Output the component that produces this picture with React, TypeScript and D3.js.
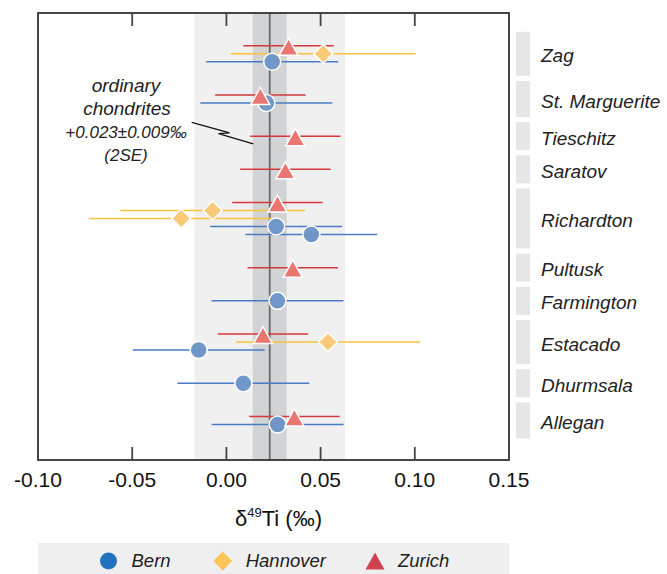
import React from 'react';
import * as d3 from 'd3';

// meteorite groups, top to bottom
const meteorites = ['Zag', 'St. Marguerite', 'Tieschitz', 'Saratov', 'Richardton', 'Pultusk', 'Farmington', 'Estacado', 'Dhurmsala', 'Allegan'];

// one entry per measurement
const rowMeteorite = ['Zag', 'Zag', 'Zag', 'St. Marguerite', 'St. Marguerite', 'Tieschitz', 'Saratov',
  'Richardton', 'Richardton', 'Richardton', 'Richardton', 'Richardton', 'Pultusk', 'Farmington',
  'Estacado', 'Estacado', 'Estacado', 'Dhurmsala', 'Allegan', 'Allegan'];
const rowLab = ['Zurich', 'Hannover', 'Bern', 'Zurich', 'Bern', 'Zurich', 'Zurich',
  'Zurich', 'Hannover', 'Hannover', 'Bern', 'Bern', 'Zurich', 'Bern',
  'Zurich', 'Hannover', 'Bern', 'Bern', 'Zurich', 'Bern'];
const delta49Ti = [0.033, 0.0514, 0.0243, 0.018, 0.0212, 0.0366, 0.0313,
  0.0271, -0.0073, -0.024, 0.0264, 0.0451, 0.0352, 0.0271,
  0.0194, 0.0539, -0.0147, 0.009, 0.0361, 0.0272];
const err2sd = [0.024, 0.049, 0.035, 0.024, 0.035, 0.024, 0.024,
  0.024, 0.049, 0.049, 0.035, 0.035, 0.024, 0.035,
  0.024, 0.049, 0.035, 0.035, 0.024, 0.035];

const labs = ['Bern', 'Hannover', 'Zurich'];
const xTicks = [-0.1, -0.05, 0, 0.05, 0.1, 0.15];

// ordinary chondrite average
const ocMean = 0.023;
const oc2se = 0.009;
const ocSpread = 0.04;

const W = 667;
const H = 574;
const left = 38, right = 509, top = 13, bottom = 460;
const font = '"Liberation Sans", Arial, Helvetica, sans-serif';
const GAP = 3.15; // extra slots between meteorite groups

const lineColor: Record<string, string> = { Bern: '#4a7bc4', Hannover: '#f7c33c', Zurich: '#d4393e' };
const markColor: Record<string, string> = { Bern: '#7097c8', Hannover: '#f8ca78', Zurich: '#e97670' };
const legendColor: Record<string, string> = { Bern: '#2173c2', Hannover: '#fcc55a', Zurich: '#cf4250' };

function Marker({ lab, cx, cy, fill, stroke }: { lab: string; cx: number; cy: number; fill: string; stroke?: string }) {
  const sw = stroke ? 1.5 : 0;
  if (lab === 'Bern') return <circle cx={cx} cy={cy} r={8.5} fill={fill} stroke={stroke} strokeWidth={sw} />;
  if (lab === 'Hannover') {
    const s = 9.5;
    return <path d={`M${cx},${cy - s}L${cx + s},${cy}L${cx},${cy + s}L${cx - s},${cy}Z`} fill={fill} stroke={stroke} strokeWidth={sw} />;
  }
  const w = 9.5, h = 8.5;
  return <path d={`M${cx},${cy - h}L${cx + w},${cy + h}L${cx - w},${cy + h}Z`} fill={fill} stroke={stroke} strokeWidth={sw} />;
}

export default function App() {
  const x = d3.scaleLinear().domain([-0.1, 0.15]).range([left, right]);

  const rows = rowMeteorite.map((m, i) => {
    const gi = meteorites.indexOf(m);
    return { m, gi, lab: rowLab[i], v: delta49Ti[i], e: err2sd[i], slot: i + gi * GAP };
  });
  const y = d3.scaleLinear().domain([-4.1, 51.8]).range([top, bottom]);

  const groups = meteorites.map((m) => {
    const slots = rows.filter((r) => r.m === m).map((r) => r.slot);
    return { m, y0: y(d3.min(slots)!) - 14, y1: y(d3.max(slots)!) + 14 };
  });

  const drawOrder = ['Bern', 'Hannover', 'Zurich'];
  const fmt = (t: number) => d3.format('.2f')(t).replace('\u2212', '-');

  return (
    <svg width={W} height={H} style={{ position: 'absolute', left: 0, top: 0 }} fontFamily={font}>
      {/* chondrite bands */}
      <rect x={x(ocMean - ocSpread)} y={top} width={x(ocMean + ocSpread) - x(ocMean - ocSpread)} height={bottom - top} fill="#f0f0f0" />
      <rect x={x(ocMean - oc2se)} y={top} width={x(ocMean + oc2se) - x(ocMean - oc2se)} height={bottom - top} fill="#d2d3d5" />
      <line x1={x(ocMean)} x2={x(ocMean)} y1={top} y2={bottom} stroke="#6a6a6a" strokeWidth={1.8} />

      {/* error bars */}
      {rows.map((r, i) => (
        <line key={'e' + i} x1={x(r.v - r.e)} x2={x(r.v + r.e)} y1={y(r.slot)} y2={y(r.slot)}
          stroke={lineColor[r.lab]} strokeWidth={1.5} />
      ))}
      {/* markers */}
      {drawOrder.map((lab) =>
        rows.filter((r) => r.lab === lab).map((r, i) => (
          <Marker key={lab + i} lab={lab} cx={x(r.v)} cy={y(r.slot) + (lab === 'Zurich' ? 1 : 0)} fill={markColor[lab]} stroke="#ffffff" />
        ))
      )}

      {/* annotation */}
      <g fontStyle="italic" fill="#222" textAnchor="middle">
        <text x={126} y={92} fontSize={19}>ordinary</text>
        <text x={127} y={115} fontSize={19}>chondrites</text>
        <text x={126} y={138} fontSize={17}>+0.023±0.009‰</text>
        <text x={126} y={161} fontSize={17}>(2SE)</text>
      </g>
      <polyline points="191.7,122.3 229.5,132.8 218.5,133.6 253.3,143.8" fill="none" stroke="#111" strokeWidth={1.2} />

      {/* frame and ticks */}
      <rect x={left} y={top} width={right - left} height={bottom - top} fill="none" stroke="#333" strokeWidth={1.8} />
      {xTicks.map((t) => (
        <g key={t}>
          <line x1={x(t)} x2={x(t)} y1={top} y2={top + 13} stroke="#444" strokeWidth={1.8} />
          <line x1={x(t)} x2={x(t)} y1={bottom} y2={bottom - 13} stroke="#444" strokeWidth={1.8} />
          <text x={x(t)} y={487} fontSize={21} textAnchor="middle" fill="#111">{fmt(t)}</text>
        </g>
      ))}
      <text x={235} y={526} fontSize={22} fill="#111">
        δ<tspan fontSize={13} dy={-9}>49</tspan><tspan dy={9}>Ti (‰)</tspan>
      </text>

      {/* meteorite labels */}
      {groups.map((g) => (
        <g key={g.m}>
          <rect x={516} y={g.y0} width={14} height={g.y1 - g.y0} fill="#e6e6e6" />
          <text x={541} y={(g.y0 + g.y1) / 2} dy="0.45em" fontSize={19} fontStyle="italic" fill="#222">{g.m}</text>
        </g>
      ))}

      {/* legend */}
      <rect x={left} y={543} width={right - left} height={H - 543} fill="#efefef" />
      {labs.map((lab, i) => {
        const mx = [108.5, 222.7, 375][i];
        return (
          <g key={lab}>
            <Marker lab={lab} cx={mx} cy={561} fill={legendColor[lab]} />
            <text x={mx + 23} y={567} fontSize={18.5} fontStyle="italic" fill="#222">{lab}</text>
          </g>
        );
      })}
    </svg>
  );
}
